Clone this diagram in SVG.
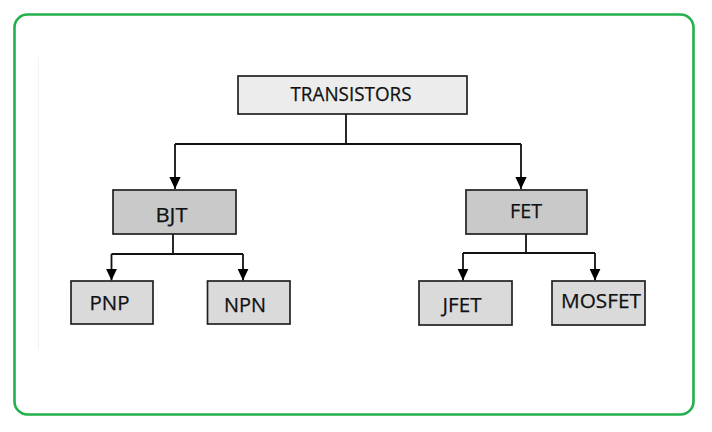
<svg xmlns="http://www.w3.org/2000/svg" width="712" height="432" viewBox="0 0 712 432">
<style>
.box{stroke:#222;stroke-width:1.7}
.top{fill:#ececec}
.mid{fill:#c9c9c9}
.leaf{fill:#dadada}
.lbl{font-family:"Open Sans","Noto Sans",sans-serif;font-size:20.5px;fill:#111;text-anchor:middle;stroke:#111;stroke-width:0.25}
.con{fill:none;stroke:#111;stroke-width:1.8}
</style>
<defs>
<marker id="arr" markerUnits="userSpaceOnUse" markerWidth="12" markerHeight="12" viewBox="0 0 10 10" refX="10" refY="5" orient="auto">
<path d="M0,0.3 L10,5 L0,9.7 Z" fill="#000"/>
</marker>
</defs>
<rect x="0" y="0" width="712" height="432" fill="#fff"/>
<rect x="14.5" y="14.5" width="679" height="400" rx="13" ry="13" fill="none" stroke="#22b14c" stroke-width="2.6"/>
<line x1="38.5" y1="57" x2="38.5" y2="350" stroke="#f3f3f3" stroke-width="1"/>
<g id="connectors">
<path class="con" d="M346,114 V144"/>
<path class="con" d="M175,144 H521"/>
<path class="con" d="M175,144 V189" marker-end="url(#arr)"/>
<path class="con" d="M521,144 V189" marker-end="url(#arr)"/>
<path class="con" d="M173,234 V254"/>
<path class="con" d="M111.5,254 H243"/>
<path class="con" d="M111.5,254 V280.5" marker-end="url(#arr)"/>
<path class="con" d="M243,254 V280.5" marker-end="url(#arr)"/>
<path class="con" d="M526,234 V253"/>
<path class="con" d="M463,253 H595"/>
<path class="con" d="M463,253 V280.5" marker-end="url(#arr)"/>
<path class="con" d="M595,253 V280.5" marker-end="url(#arr)"/>
</g>
<g id="transistors">
<rect class="box top" x="238" y="76" width="229" height="38"/>
<text class="lbl" x="351" y="101" textLength="121" lengthAdjust="spacingAndGlyphs">TRANSISTORS</text>
</g>
<g id="bjt">
<rect class="box mid" x="113" y="190" width="123" height="44"/>
<text class="lbl" x="171.5" y="222" textLength="32" lengthAdjust="spacingAndGlyphs">BJT</text>
</g>
<g id="fet">
<rect class="box mid" x="466" y="190" width="121" height="44"/>
<text class="lbl" x="526" y="218" textLength="32" lengthAdjust="spacingAndGlyphs">FET</text>
</g>
<g id="pnp">
<rect class="box leaf" x="71" y="281" width="82" height="43"/>
<text class="lbl" x="109.5" y="310" textLength="40" lengthAdjust="spacingAndGlyphs">PNP</text>
</g>
<g id="npn">
<rect class="box leaf" x="207.5" y="281" width="82.5" height="43"/>
<text class="lbl" x="245" y="311.5" textLength="42" lengthAdjust="spacingAndGlyphs">NPN</text>
</g>
<g id="jfet">
<rect class="box leaf" x="419" y="281" width="93" height="44"/>
<text class="lbl" x="462" y="311.5" textLength="39" lengthAdjust="spacingAndGlyphs">JFET</text>
</g>
<g id="mosfet">
<rect class="box leaf" x="552" y="281" width="93" height="44"/>
<text class="lbl" x="601" y="308" textLength="80" lengthAdjust="spacingAndGlyphs">MOSFET</text>
</g>
</svg>
